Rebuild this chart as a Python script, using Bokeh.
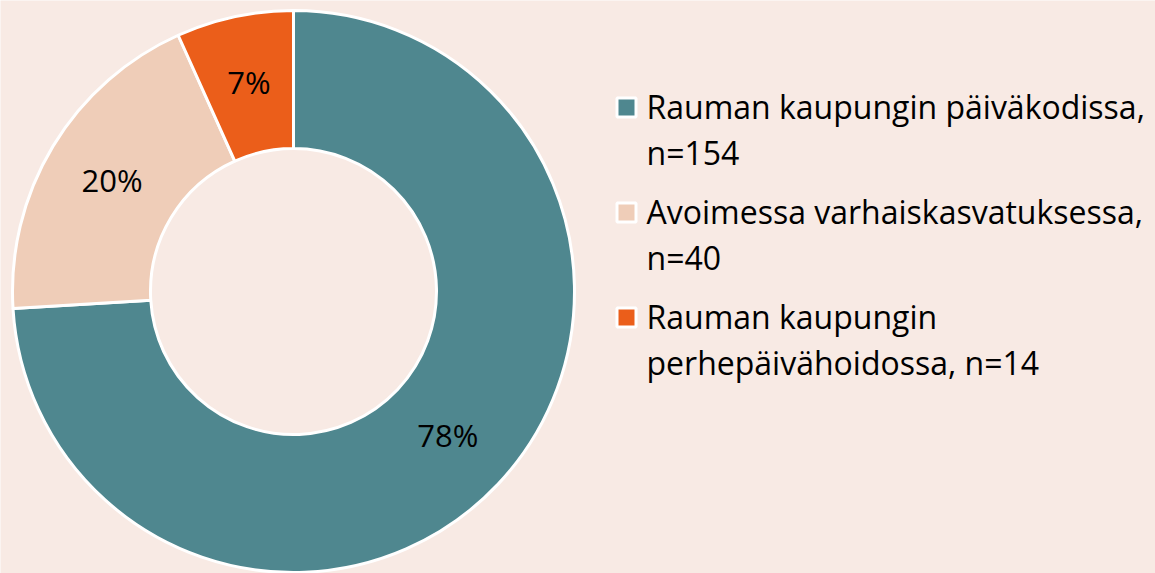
import math
from bokeh.plotting import figure
from bokeh.models import Range1d, ColumnDataSource
from bokeh.core.properties import value
from bokeh.embed import file_html
from bokeh.resources import INLINE

# ---- data ----
categories = ["Rauman kaupungin päiväkodissa", "Avoimessa varhaiskasvatuksessa",
              "Rauman kaupungin perhepäivähoidossa"]
counts = [154, 40, 14]
pct_labels = ["78%", "20%", "7%"]
legend_lines = [["Rauman kaupungin päiväkodissa,", "n=154"],
                ["Avoimessa varhaiskasvatuksessa,", "n=40"],
                ["Rauman kaupungin", "perhepäivähoidossa, n=14"]]
colors = ["#4F878F", "#EFCDB8", "#EB5E1A"]

BG = "#F8EAE4"
FONT = "Open Sans"
W, H = 1155, 573

p = figure(width=W, height=H, output_backend="svg", toolbar_location=None,
           x_range=Range1d(0, W), y_range=Range1d(0, H),
           background_fill_color=BG, border_fill_color=BG, min_border=0)
p.axis.visible = False
p.grid.visible = False
p.outline_line_color = None

def Y(y_screen):
    return H - y_screen

cx, cy = 293, 291
r_out, r_in = 281, 143

total = sum(counts)
starts, ends, mids = [], [], []
acc = 0.0
for c in counts:
    a0 = acc / total
    acc += c
    a1 = acc / total
    starts.append(a0)
    ends.append(a1)
    mids.append((a0 + a1) / 2)

def ang(f):
    # clockwise fraction from top -> math angle
    return math.pi / 2 - 2 * math.pi * f

src = ColumnDataSource(dict(
    start=[ang(s) for s in starts],
    end=[ang(e) for e in ends],
    color=colors))
p.annular_wedge(x=cx, y=Y(cy), inner_radius=r_in, outer_radius=r_out,
                start_angle="start", end_angle="end", direction="clock",
                fill_color="color", line_color="white", line_width=3, source=src)

r_mid = (r_in + r_out) / 2
lx = [cx + r_mid * math.cos(ang(m)) for m in mids]
ly = [Y(cy - 2) + r_mid * math.sin(ang(m)) for m in mids]
p.text(x=lx, y=ly, text=pct_labels, text_align="center", text_baseline="middle",
       text_font=value(FONT), text_font_size="31px", text_color="black")

# ---- legend ----
leg_x = 626
text_x = 646
first_base = 106
sq_y = 107
line_gap = 46
item_gap = 59
for i, lines in enumerate(legend_lines):
    off = i * (line_gap + item_gap)
    p.rect(x=[leg_x], y=[Y(sq_y + off)], width=19, height=19,
           fill_color=colors[i], line_color="white", line_width=3)
    p.text(x=[text_x] * len(lines),
           y=[Y(first_base + off + k * line_gap) for k in range(len(lines))],
           text=lines, text_align="left", text_baseline="alphabetic",
           text_font=value(FONT), text_font_size="32px", text_color="black")

open("out.html", "w").write(file_html(p, INLINE))
